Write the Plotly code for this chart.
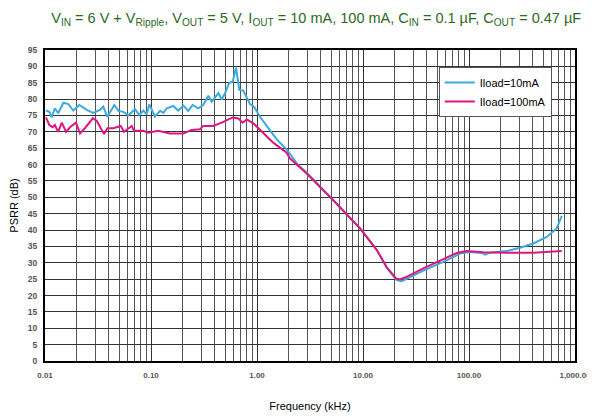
import plotly.graph_objects as go

# Frequency (kHz) and PSRR (dB), Iload = 10 mA
freq_10ma = [0.0102, 0.0110, 0.01156, 0.0124, 0.0133, 0.0149, 0.0166, 0.0185, 0.0211, 0.0247,
             0.0285, 0.0330, 0.0355, 0.0387, 0.0451, 0.0492, 0.0548, 0.0611, 0.0707, 0.0776,
             0.0846, 0.0910, 0.0964, 0.109, 0.122, 0.131, 0.141, 0.162, 0.181, 0.202,
             0.225, 0.247, 0.279, 0.311, 0.347, 0.374, 0.402, 0.432, 0.464, 0.499,
             0.548, 0.590, 0.634, 0.681, 0.743, 0.800, 0.859, 0.937, 1.067, 1.235,
             1.535, 1.907, 2.45, 2.94, 4.89, 5.25, 9.72, 13.5, 16.7, 20.8,
             23.2, 37.1, 57.3, 82.3, 102, 132, 142, 158, 227, 303,
             405, 541, 672, 750]
psrr_10ma = [76.5, 76.1, 74.4, 77.2, 75.7, 78.9, 78.5, 76.5, 78.2, 76.7,
             75.8, 76.7, 77.7, 74.6, 78.2, 76.4, 76.1, 75.1, 76.9, 75.1,
             76.5, 75.4, 78.4, 74.6, 76.4, 75.8, 77.2, 77.9, 76.5, 78.0,
             76.4, 78.2, 77.2, 78.2, 81.0, 79.2, 80.5, 81.8, 79.9, 81.8,
             85.0, 85.3, 89.6, 82.8, 82.6, 80.5, 78.5, 77.7, 74.6, 71.8,
             67.7, 64.6, 59.8, 57.6, 50.2, 49.1, 40.0, 33.9, 28.5, 24.7,
             24.4, 27.6, 30.3, 32.8, 33.3, 33.0, 32.5, 33.1, 33.6, 34.6,
             35.9, 37.9, 40.5, 44.3]

# Frequency (kHz) and PSRR (dB), Iload = 100 mA
freq_100ma = [0.0102, 0.0110, 0.0118, 0.0124, 0.0133, 0.0144, 0.0158, 0.0172, 0.0196, 0.0214,
              0.0238, 0.0282, 0.0307, 0.0361, 0.0387, 0.0441, 0.0518, 0.0556, 0.0658, 0.0691,
              0.0846, 0.0945, 0.117, 0.151, 0.202, 0.242, 0.290, 0.311, 0.387, 0.464,
              0.590, 0.667, 0.733, 0.800, 0.923, 1.146, 1.424, 1.907, 2.03, 2.94,
              4.89, 5.25, 9.37, 13.5, 16.7, 20.5, 22.3, 24.9, 37.1, 57.3,
              76.6, 95.1, 136, 227, 405, 750]
psrr_100ma = [74.4, 72.1, 71.4, 72.1, 70.0, 72.8, 70.0, 71.4, 72.8, 69.5,
              71.1, 74.1, 73.4, 69.3, 71.1, 71.1, 71.8, 70.0, 71.8, 70.3,
              70.3, 69.7, 70.3, 69.5, 69.5, 70.6, 70.8, 71.8, 71.8, 72.8,
              74.4, 74.1, 72.8, 73.8, 72.6, 69.7, 66.7, 63.6, 62.0, 57.3,
              50.2, 49.1, 40.5, 33.9, 28.7, 25.2, 24.9, 25.5, 28.3, 31.0,
              33.0, 33.6, 33.2, 33.1, 33.1, 33.6]

x_tickvals = [0.01, 0.1, 1, 10, 100, 1000]
x_ticktext = ["0.01", "0.10", "1.00", "10.00", "100.00", "1,000.00"]

FONT = "Arial, Liberation Sans, sans-serif"

fig = go.Figure()
fig.add_trace(go.Scatter(x=freq_10ma, y=psrr_10ma, mode="lines", name="Iload=10mA",
                         line=dict(color="#3AAAE0", width=2)))
fig.add_trace(go.Scatter(x=freq_100ma, y=psrr_100ma, mode="lines", name="Iload=100mA",
                         line=dict(color="#E0157F", width=2)))

fig.update_layout(
    width=587, height=409,
    margin=dict(l=37, r=20, t=42, b=56),
    paper_bgcolor="white", plot_bgcolor="white",
    font=dict(family=FONT, color="black"),
    title=dict(
        text="V<sub>IN</sub> = 6 V + V<sub>Ripple</sub>, V<sub>OUT</sub> = 5 V, I<sub>OUT</sub> = 10 mA, 100 mA, "
             "C<sub>IN</sub> = 0.1 µF, C<sub>OUT</sub> = 0.47 µF",
        x=0.525, xanchor="center", y=0.975, yanchor="middle",
        font=dict(size=14.5, color="#2A6A1C", family=FONT)),
    legend=dict(x=0.743, y=0.945, xanchor="left", yanchor="top",
                bgcolor="white", bordercolor="#555", borderwidth=1,
                font=dict(size=11, family=FONT), tracegroupgap=2),
    showlegend=True,
)

fig.update_xaxes(
    type="log", range=[-2, 3], automargin=False,
    tickvals=x_tickvals, ticktext=x_ticktext,
    tickfont=dict(size=8, color="#555", family=FONT, weight="bold"),
    showgrid=True, gridcolor="#333", gridwidth=1,
    minor=dict(showgrid=True, gridcolor="#555", gridwidth=1, dtick="D1"),
    showline=True, linecolor="black", linewidth=2, mirror=True,
    ticks="", ticklen=0, ticklabelstandoff=5,
    title=dict(text="Frequency (kHz)", font=dict(size=11, family=FONT), standoff=24),
    zeroline=False,
)
fig.update_yaxes(
    range=[0, 95], dtick=5, tick0=0, automargin=False,
    tickfont=dict(size=8.5, color="#555", family=FONT, weight="bold"),
    showgrid=True, gridcolor="#333", gridwidth=1,
    showline=True, linecolor="black", linewidth=2, mirror=True,
    ticks="", ticklen=0, ticklabelstandoff=4,
    title=dict(text="PSRR (dB)", font=dict(size=11, family=FONT), standoff=8),
    zeroline=False,
)

fig.write_html("out.html")
